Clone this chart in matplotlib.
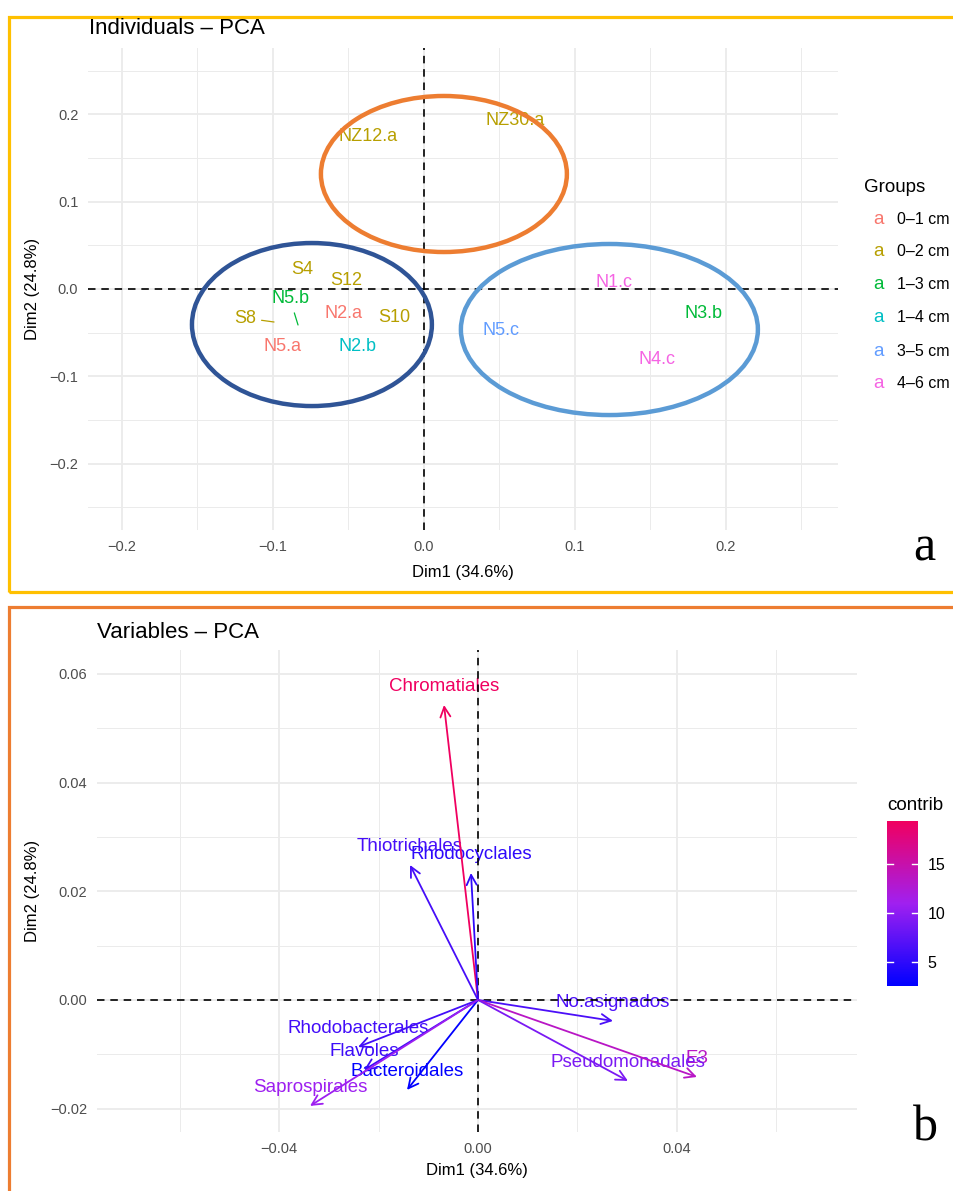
import matplotlib
matplotlib.use("Agg")
import matplotlib.pyplot as plt
from matplotlib.patches import Ellipse, Rectangle
from matplotlib.colors import LinearSegmentedColormap, Normalize
from matplotlib.cm import ScalarMappable

plt.rcParams['font.family'] = ['Liberation Sans', 'DejaVu Sans']

# ---------------- individuals (PCA scores) ----------------
ind_names = ["NZ12.a", "NZ30.a", "S4", "S12", "N5.b", "S8", "N2.a", "S10",
             "N5.a", "N2.b", "N1.c", "N3.b", "N5.c", "N4.c"]
ind_group = ["0–2 cm", "0–2 cm", "0–2 cm", "0–2 cm", "1–3 cm", "0–2 cm", "0–1 cm", "0–2 cm",
             "0–1 cm", "1–4 cm", "4–6 cm", "1–3 cm", "3–5 cm", "4–6 cm"]
ind_dim1 = [-0.0371, 0.0603, -0.0808, -0.0517, -0.0834, -0.0993, -0.0536, -0.0199,
            -0.0934, -0.0437, 0.1258, 0.1854, 0.0510, 0.1543]
ind_dim2 = [0.1741, 0.1924, 0.0218, 0.0092, -0.0412, -0.0378, -0.0275, -0.0321,
            -0.0664, -0.0664, 0.0069, -0.0286, -0.0470, -0.0802]

group_labels = ["0–1 cm", "0–2 cm", "1–3 cm", "1–4 cm", "3–5 cm", "4–6 cm"]
group_colors = ["#F8766D", "#B79F00", "#00BA38", "#00BFC4", "#619CFF", "#F564E3"]

# ---------------- variables (loadings) ----------------
var_names = ["Chromatiales", "Thiotrichales", "Rhodocyclales", "No.asignados", "E3",
             "Pseudomonadales", "Rhodobacterales", "Flavoles", "Bacteroidales", "Saprospirales"]
var_dim1 = [-0.00683, -0.01367, -0.00141, 0.02714, 0.04402,
            0.03015, -0.02412, -0.02291, -0.01427, -0.03377]
var_dim2 = [0.05428, 0.02484, 0.02337, -0.00386, -0.01417,
            -0.01490, -0.00865, -0.01288, -0.01656, -0.01950]
var_contrib = [19.4, 6.2, 5.0, 6.5, 13.5, 9.0, 6.0, 5.8, 2.6, 10.8]

# ---------------- layout helpers ----------------
W, H = 954, 1191
fig = plt.figure(figsize=(W / 100, H / 100), dpi=100)


def fx(px):
    return px / W


def fy(py):
    return 1 - py / H


def axes_px(left, top, right, bottom):
    return fig.add_axes([fx(left), fy(bottom), (right - left) / W, (bottom - top) / H])


GRID = "#EBEBEB"
TICK_COL = "#4D4D4D"
DASH = (0, (4.5, 3.5))


def style_axes(ax, xmaj, xmin, ymaj, ymin, xlab, ylab):
    ax.set_xticks(xmaj)
    ax.set_xticks(xmin, minor=True)
    ax.set_yticks(ymaj)
    ax.set_yticks(ymin, minor=True)
    ax.set_xticklabels(xlab)
    ax.set_yticklabels(ylab)
    ax.grid(which="major", color=GRID, lw=1.3, zorder=0)
    ax.grid(which="minor", color=GRID, lw=0.7, zorder=0)
    ax.set_axisbelow(True)
    for s in ax.spines.values():
        s.set_visible(False)
    ax.tick_params(which="both", length=0, labelsize=10.5, labelcolor=TICK_COL, pad=7)
    ax.axhline(0, color="black", lw=1.2, ls=DASH, zorder=4)
    ax.axvline(0, color="black", lw=1.2, ls=DASH, zorder=4)


def fmt(v, nd):
    s = f"{abs(v):.{nd}f}"
    return ("−" + s) if v < 0 else s


# ================= panel a: individuals =================
ax1 = axes_px(88, 48, 838, 530)
ax1.set_xlim(-0.2225, 0.2742)
ax1.set_ylim(-0.276, 0.276)
xm = [-0.2, -0.1, 0.0, 0.1, 0.2]
ym = [-0.2, -0.1, 0.0, 0.1, 0.2]
style_axes(ax1, xm, [-0.15, -0.05, 0.05, 0.15, 0.25], ym,
           [-0.25, -0.15, -0.05, 0.05, 0.15, 0.25],
           [fmt(v, 1) for v in xm], [fmt(v, 1) for v in ym])

color_of = dict(zip(group_labels, group_colors))
label_nudge = {"N5.b": (-8, 26), "S8": (-29, 4)}
for name, g, x, y in zip(ind_names, ind_group, ind_dim1, ind_dim2):
    c = color_of[g]
    if name in label_nudge:
        ax1.annotate(name, xy=(x, y), xytext=label_nudge[name], textcoords="offset pixels",
                     ha="center", va="center", color=c, fontsize=13, zorder=3,
                     arrowprops=dict(arrowstyle="-", color=c, lw=0.9, shrinkA=2, shrinkB=0))
    else:
        ax1.text(x, y, name, ha="center", va="center", color=c, fontsize=13, zorder=3)

# cluster outlines
clusters = [((0.0132, 0.1317), 0.1629, 0.1787, "#ED7D31"),
            ((-0.0742, -0.0407), 0.1589, 0.1867, "#2F5496"),
            ((0.1228, -0.0464), 0.1967, 0.1959, "#5B9BD5")]
for center, w, h, col in clusters:
    ax1.add_patch(Ellipse(center, w, h, fill=False, ec=col, lw=3.2, zorder=5))

fig.text(fx(89), fy(28), "Individuals – PCA", fontsize=16, va="center", ha="left")
fig.text(fx(463), fy(572), "Dim1 (34.6%)", fontsize=12, ha="center", va="center")
fig.text(fx(33), fy(289), "Dim2 (24.8%)", fontsize=12, ha="center", va="center", rotation=90)

# legend of groups
fig.text(fx(864), fy(187), "Groups", fontsize=13.5, ha="left", va="center")
for i, (lab, col) in enumerate(zip(group_labels, group_colors)):
    yy = 219 + i * 33
    fig.text(fx(879), fy(yy), "a", color=col, fontsize=13.5, ha="center", va="center")
    fig.text(fx(897), fy(yy), lab, fontsize=11.5, ha="left", va="center")

fig.text(fx(924), fy(548), "a", fontsize=36, ha="center", va="center",
         family=["Liberation Serif", "DejaVu Serif"])

# ================= panel b: variables =================
ax2 = axes_px(97, 650, 857, 1132)
ax2.set_xlim(-0.0766, 0.0762)
ax2.set_ylim(-0.0243, 0.0644)
xm2 = [-0.04, 0.0, 0.04]
ym2 = [-0.02, 0.0, 0.02, 0.04, 0.06]
style_axes(ax2, xm2, [-0.06, -0.02, 0.02, 0.06], ym2, [-0.01, 0.01, 0.03, 0.05],
           [fmt(v, 2) for v in xm2], [fmt(v, 2) for v in ym2])

cmap = LinearSegmentedColormap.from_list("contrib", ["#0000FF", "#A020F0", "#F00060"])
norm = Normalize(vmin=2.5, vmax=19.4)
for name, x, y, ct in zip(var_names, var_dim1, var_dim2, var_contrib):
    c = cmap(norm(ct))
    ax2.annotate("", xy=(x, y), xytext=(0, 0), zorder=5,
                 arrowprops=dict(arrowstyle="->,head_length=0.6,head_width=0.3",
                                 color=c, lw=1.3, shrinkA=0, shrinkB=0, mutation_scale=12))
    ax2.annotate(name, xy=(x, y), xytext=(0, 18), textcoords="offset pixels",
                 ha="center", va="center", color=c, fontsize=13.5, zorder=3)

fig.text(fx(97), fy(632), "Variables – PCA", fontsize=16, va="center", ha="left")
fig.text(fx(477), fy(1170), "Dim1 (34.6%)", fontsize=12, ha="center", va="center")
fig.text(fx(33), fy(891), "Dim2 (24.8%)", fontsize=12, ha="center", va="center", rotation=90)

# colour bar for contributions
cax = axes_px(887, 821, 918, 986)
cb = fig.colorbar(ScalarMappable(norm=norm, cmap=cmap), cax=cax)
cb.outline.set_visible(False)
cb.set_ticks([5, 10, 15])
cax.tick_params(length=0, labelsize=11.5, pad=7, labelcolor="black")
tr = cax.get_yaxis_transform()
for t in [5, 10, 15]:
    cax.plot([0, 0.2], [t, t], color="white", lw=1, transform=tr)
    cax.plot([0.8, 1.0], [t, t], color="white", lw=1, transform=tr)
fig.text(fx(887), fy(805), "contrib", fontsize=13.5, ha="left", va="center")

fig.text(fx(925), fy(1128), "b", fontsize=36, ha="center", va="center",
         family=["Liberation Serif", "DejaVu Serif"])

# panel frames
fig.add_artist(Rectangle((fx(9), fy(592)), (960 - 9) / W, (592 - 17) / H,
                         transform=fig.transFigure, fill=False, ec="#FFC000", lw=2.3))
fig.add_artist(Rectangle((fx(9), fy(1200)), (960 - 9) / W, (1200 - 607) / H,
                         transform=fig.transFigure, fill=False, ec="#ED7D31", lw=2.3))

fig.savefig("out.png", dpi=100)
